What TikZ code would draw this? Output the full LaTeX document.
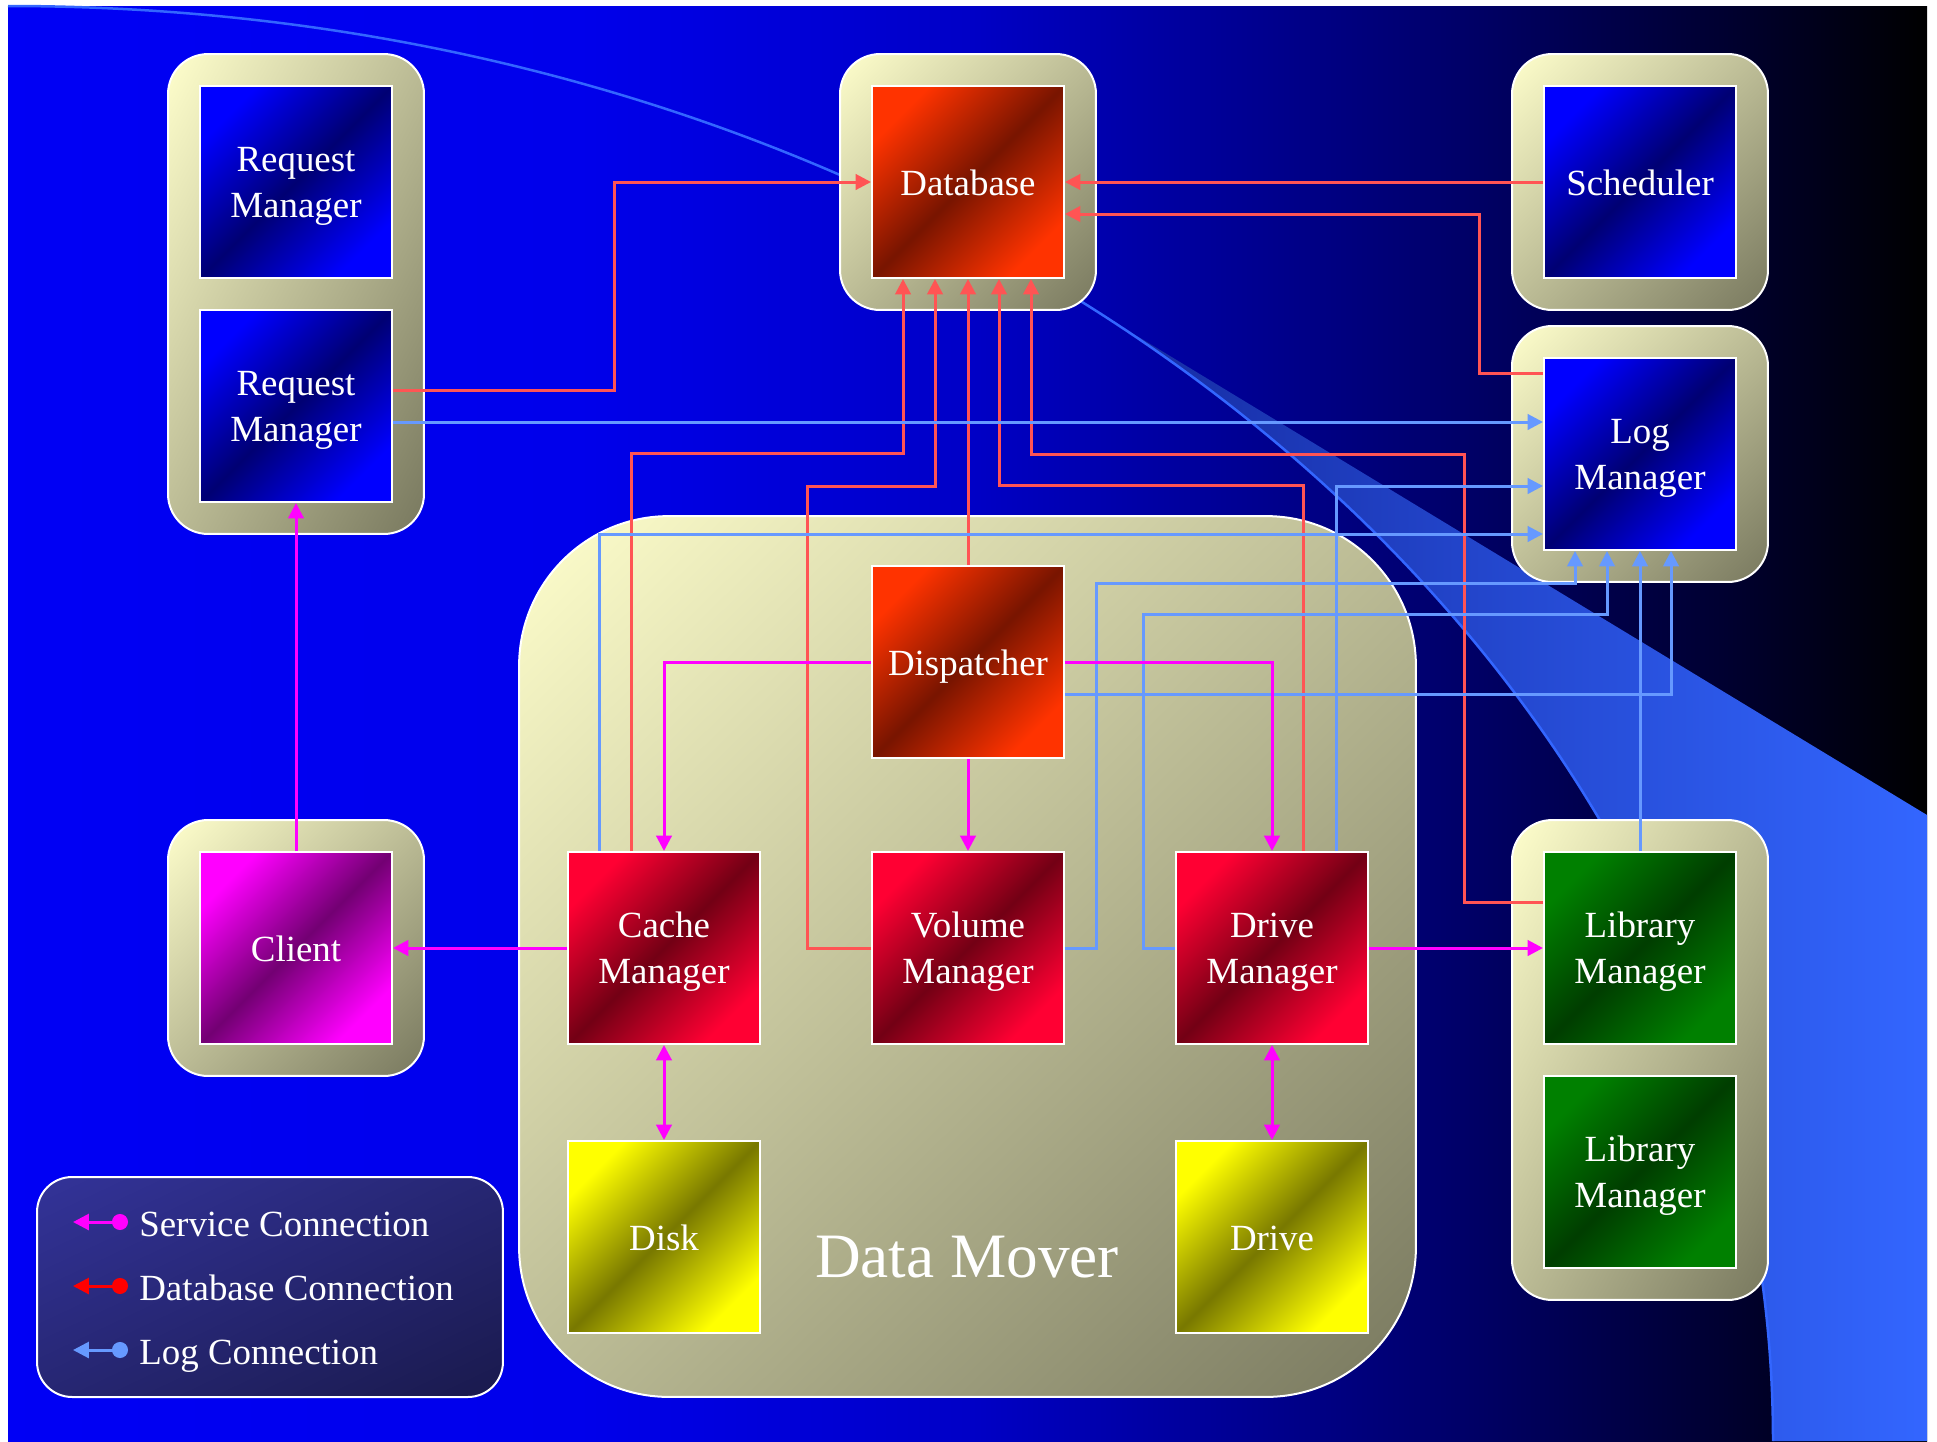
\documentclass[tikz,border=0pt]{standalone}
\usepackage{fontspec}
\setmainfont{Liberation Serif}
\usetikzlibrary{arrows.meta,calc,positioning,shadings}

% background and swoosh colours
\definecolor{bgA}{rgb}{0,0,0.96}
\definecolor{bgB}{rgb}{0,0,0.92}
\definecolor{bgC}{rgb}{0,0,0.78}
\definecolor{bgD}{rgb}{0,0,0.42}
\definecolor{bgE}{rgb}{0,0,0.18}
\definecolor{swA}{rgb}{0.08,0.16,0.62}
\definecolor{swB}{rgb}{0.2,0.4,1}
% box colours
\definecolor{creamlt}{rgb}{1,1,0.8}
\definecolor{olivedk}{rgb}{0.47,0.47,0.37}
\colorlet{creammid}{creamlt!50!olivedk}
\definecolor{legA}{rgb}{0.2,0.2,0.6}
\definecolor{legB}{rgb}{0.1,0.1,0.3}
\colorlet{legM}{legA!50!legB}
\definecolor{blueA}{rgb}{0,0,1}
\definecolor{blueB}{rgb}{0,0,0.45}
\definecolor{rustA}{rgb}{1,0.2,0}
\definecolor{rustB}{rgb}{0.47,0.08,0}
\definecolor{crimA}{rgb}{1,0,0.2}
\definecolor{crimB}{rgb}{0.45,0,0.08}
\definecolor{magA}{rgb}{1,0,1}
\definecolor{magB}{rgb}{0.45,0,0.45}
\definecolor{grnA}{rgb}{0,0.5,0}
\definecolor{grnB}{rgb}{0,0.24,0}
\definecolor{ylwA}{rgb}{1,1,0}
\definecolor{ylwB}{rgb}{0.47,0.47,0}
% connector colours
\definecolor{svccol}{rgb}{1,0,1}
\definecolor{dbcol}{rgb}{1,0.33,0.33}
\definecolor{logcol}{rgb}{0.4,0.6,1}
\definecolor{legred}{rgb}{1,0,0}

\pgfdeclarehorizontalshading{bgfade}{100bp}{color(0bp)=(bgA); color(25bp)=(bgA); color(40bp)=(bgB); color(50bp)=(bgC); color(62.5bp)=(bgD); color(70bp)=(bgE); color(75bp)=(black); color(100bp)=(black)}

\tikzstyle{grp} = [draw=white, line width=0.04cm, rounded corners=0.8cm, inner sep=0pt, upper left=creamlt, upper right=creammid, lower left=creammid, lower right=olivedk]
\tikzstyle{inbox} = [draw=white, line width=0.04cm, minimum width=3.84cm, minimum height=3.84cm, inner sep=0pt, text=white, align=center, text height=45pt, text depth=4.6pt, font=\fontsize{21pt}{26pt}\selectfont]
\tikzstyle{onel} = [text height=20.4pt]
\tikzstyle{bluebox} = [inbox, top color=blueA, bottom color=blueA, middle color=blueB, shading angle=45]
\tikzstyle{rustbox} = [inbox, top color=rustA, bottom color=rustA, middle color=rustB, shading angle=45]
\tikzstyle{crimbox} = [inbox, top color=crimA, bottom color=crimA, middle color=crimB, shading angle=45]
\tikzstyle{magbox} = [inbox, top color=magA, bottom color=magA, middle color=magB, shading angle=45]
\tikzstyle{grnbox} = [inbox, top color=grnA, bottom color=grnA, middle color=grnB, shading angle=45]
\tikzstyle{ylwbox} = [inbox, top color=ylwA, bottom color=ylwA, middle color=ylwB, shading angle=45]
\tikzstyle{conn} = [line width=0.06cm, -{Triangle[length=0.31cm,width=0.31cm]}]
\tikzstyle{both} = [{Triangle[length=0.31cm,width=0.31cm]}-{Triangle[length=0.31cm,width=0.31cm]}]
\tikzstyle{svc} = [conn, draw=svccol]
\tikzstyle{dbc} = [conn, draw=dbcol]
\tikzstyle{logc} = [conn, draw=logcol]
\tikzstyle{legtxt} = [anchor=base west, inner sep=0pt, text=white, font=\fontsize{21pt}{26pt}\selectfont]

\begin{document}
\begin{tikzpicture}[x=0.02cm, y=-0.02cm]
\useasboundingbox (0,0) rectangle (1937,1441);
% background
\shade[shading=bgfade] (8,6) rectangle (1927,1441);
% swoosh
\begin{scope}
\clip (8,6) .. controls (983,6) and (1773,648) .. (1773,1441) -- (1927,1441) -- (1927,6) -- cycle;
\shade[left color=swA, right color=swB] (1081,302) -- (1927,815) -- (1927,1441) -- (1081,1441) -- cycle;
\end{scope}
\draw[draw=swB, line width=0.05cm] (8,6) .. controls (983,6) and (1773,648) .. (1773,1441);

% group boxes
\draw (296,294) node (rmgrp) [grp, minimum width=5.12cm, minimum height=9.6cm] {};
\draw (968,182) node (dbgrp) [grp, minimum width=5.12cm, minimum height=5.12cm] {};
\draw (1640,182) node (schedgrp) [grp, minimum width=5.12cm, minimum height=5.12cm] {};
\draw (1640,454) node (loggrp) [grp, minimum width=5.12cm, minimum height=5.12cm] {};
\draw (296,948) node (clientgrp) [grp, minimum width=5.12cm, minimum height=5.12cm] {};
\draw (1640,1060) node (libgrp) [grp, minimum width=5.12cm, minimum height=9.6cm] {};
\draw (967.5,956.5) node (mover) [grp, rounded corners=3cm, minimum width=17.94cm, minimum height=17.62cm] {};
\node (movertxt) [anchor=base, text=white, font=\fontsize{36pt}{40pt}\selectfont] at (967,1277) {Data Mover};

% legend
\draw (270,1287) node (legend) [draw=white, line width=0.04cm, rounded corners=0.7cm, inner sep=0pt, minimum width=9.32cm, minimum height=4.4cm, upper left=legA, upper right=legM, lower left=legM, lower right=legB] {};
\coordinate (ls1) at (128,1222); \coordinate (le1) at (73,1222);
\coordinate (ls2) at (128,1286); \coordinate (le2) at (73,1286);
\coordinate (ls3) at (128,1350); \coordinate (le3) at (73,1350);
\draw[line width=0.06cm, draw=svccol, {Circle[length=0.32cm]}-{Triangle[length=0.32cm,width=0.32cm]}] (ls1) -- (le1);
\draw[line width=0.06cm, draw=legred, {Circle[length=0.32cm]}-{Triangle[length=0.32cm,width=0.32cm]}] (ls2) -- (le2);
\draw[line width=0.06cm, draw=logcol, {Circle[length=0.32cm]}-{Triangle[length=0.32cm,width=0.32cm]}] (ls3) -- (le3);
\node (lt1) [legtxt] at (139,1236) {Service Connection};
\node (lt2) [legtxt] at (139,1300) {Database Connection};
\node (lt3) [legtxt] at (139,1364) {Log Connection};

% components
\draw (296,182) node (rm1) [bluebox] {Request\\Manager};
\draw (296,406) node (rm2) [bluebox] {Request\\Manager};
\draw (968,182) node (db) [rustbox, onel] {Database};
\draw (1640,182) node (sched) [bluebox, onel] {Scheduler};
\draw (1640,454) node (log) [bluebox] {Log\\Manager};
\draw (296,948) node (client) [magbox, onel] {Client};
\draw (1640,948) node (lib1) [grnbox] {Library\\Manager};
\draw (1640,1172) node (lib2) [grnbox] {Library\\Manager};
\draw (968,662) node (disp) [rustbox, onel] {Dispatcher};
\draw (664,948) node (cache) [crimbox] {Cache\\Manager};
\draw (968,948) node (vol) [crimbox] {Volume\\Manager};
\draw (1272,948) node (drvm) [crimbox] {Drive\\Manager};
\draw (664,1237) node (disk) [ylwbox, onel] {Disk};
\draw (1272,1237) node (drive) [ylwbox, onel] {Drive};

% database connections
\draw[dbc] ($(rm2.east)+(0,-16)$) -- ++(222,0) |- (db.west);
\draw[dbc] (sched.west) -- (db.east);
\draw[dbc] ($(log.north west)+(0,16)$) -- ++(-64,0) |- ($(db.east)+(0,32)$);
\draw[dbc] ($(cache.north west)+(64,0)$) -- ++(0,-398) -| ($(db.south west)+(32,0)$);
\draw[dbc] (vol.west) -- ++(-64,0) -- ++(0,-462) -| ($(db.south west)+(64,0)$);
\draw[dbc] (disp.north) -- (db.south);
\draw[dbc] ($(drvm.north west)+(128,0)$) -- ++(0,-366) -| ($(db.south west)+(128,0)$);
\draw[dbc] ($(lib1.west)+(0,-46)$) -- ++(-79,0) -- ++(0,-448) -| ($(db.south west)+(160,0)$);

% log connections
\draw[logc] ($(rm2.east)+(0,16)$) -- ($(log.west)+(0,-32)$);
\draw[logc] ($(cache.north west)+(32,0)$) |- ($(log.west)+(0,80)$);
\draw[logc] ($(drvm.north east)+(-32,0)$) |- ($(log.west)+(0,32)$);
\draw[logc] (vol.east) -- ++(32,0) -- ++(0,-365) -| ($(log.south west)+(32,0)$);
\draw[logc] (drvm.west) -- ++(-32,0) -- ++(0,-334) -| ($(log.south west)+(64,0)$);
\draw[logc] (lib1.north) -- (log.south);
\draw[logc] ($(disp.east)+(0,32)$) -| ($(log.south west)+(128,0)$);

% service connections
\draw[svc] (client.north) -- (rm2.south);
\draw[svc] (cache.west) -- (client.east);
\draw[svc] (disp.west) -| (cache.north);
\draw[svc] (disp.south) -- (vol.north);
\draw[svc] (disp.east) -| (drvm.north);
\draw[svc] (drvm.east) -- (lib1.west);
\draw[svc, both] (cache.south) -- (disk.north);
\draw[svc, both] (drvm.south) -- (drive.north);
\end{tikzpicture}
\end{document}
